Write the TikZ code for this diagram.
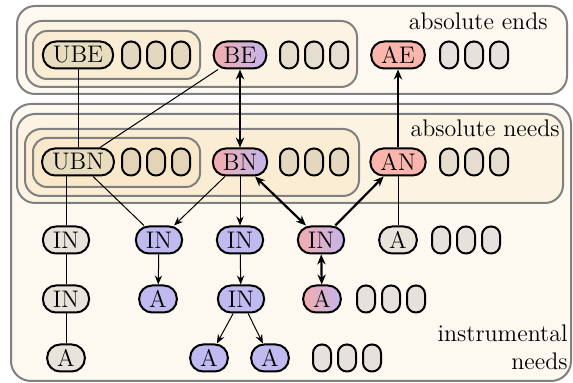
\documentclass[tikz,border=0pt]{standalone}
\usepackage{tikz}
\usetikzlibrary{arrows.meta}

\definecolor{boxa}{RGB}{253,249,241}
\definecolor{boxb}{RGB}{252,243,226}
\definecolor{boxc}{RGB}{251,237,212}
\definecolor{boxd}{RGB}{250,232,202}
\definecolor{ubcol}{RGB}{232,220,190}
\definecolor{grcol}{RGB}{232,228,220}
\definecolor{blcol}{RGB}{191,186,240}
\definecolor{abcol}{RGB}{250,182,172}
\definecolor{bpink}{RGB}{242,172,172}
\definecolor{blav}{RGB}{196,182,236}
\definecolor{edgegray}{RGB}{128,128,128}

\tikzset{
  grp/.style={draw=edgegray, line width=1pt},
  tag/.style={draw, line width=1pt, rounded corners=6.5pt, minimum height=13.5pt,
    inner xsep=5pt, inner ysep=0pt, font=\fontsize{12}{14}\selectfont},
  mixed/.style={tag, left color=bpink, right color=blav},
  oval/.style={draw, line width=1pt, rounded corners=4.4pt, minimum height=13.5pt,
    minimum width=9pt, inner sep=0pt, fill=black, fill opacity=0.09},
  caption/.style={anchor=base east, inner sep=0pt, font=\fontsize{12}{14}\selectfont},
  link/.style={line width=0.5pt, >={Stealth[length=4.5pt,width=3.6pt]}},
  bold/.style={line width=1.1pt, >={Stealth[length=5pt,width=4.2pt]}}
}

\begin{document}
\begin{tikzpicture}[x=0.5pt,y=-0.5pt]
    \useasboundingbox (0,0) rectangle (573,383);
    % ends
    \draw[grp, fill=boxa, rounded corners=9pt] (17,6) rectangle (567,94);
    \draw[grp, fill=boxb, rounded corners=8pt] (26,21) rectangle (357,87);
    \draw[grp, fill=boxc, rounded corners=7pt] (33,31) rectangle (200,79);
    % needs
    \draw[grp, fill=boxa, rounded corners=10pt] (11,104) rectangle (571,381);
    \draw[grp, fill=boxb, rounded corners=9pt] (17,114) rectangle (563,203);
    \draw[grp, fill=boxc, rounded corners=8pt] (25,129) rectangle (359,196);
    \draw[grp, fill=boxd, rounded corners=7pt] (33,138) rectangle (200,187);

    \node[caption] (ends) at (548,30) {absolute ends};
    \node[caption] (needs) at (560,137) {absolute needs};
    \node[caption] (instr) at (568,342) {instrumental};
    \node[caption] (instrb) at (568,370) {needs};

    % row 1
    \node[tag, fill=ubcol] (ube) at (78,55) {UBE};
    \node[oval] (ubeo1) at (131,55) {};
    \node[oval] (ubeo2) at (156,55) {};
    \node[oval] (ubeo3) at (181,55) {};
    \node[mixed] (be) at (240,55) {BE};
    \node[oval] (beo1) at (289,55) {};
    \node[oval] (beo2) at (314,55) {};
    \node[oval] (beo3) at (339,55) {};
    \node[tag, fill=abcol] (ae) at (398,55) {AE};
    \node[oval] (aeo1) at (449,55) {};
    \node[oval] (aeo2) at (474,55) {};
    \node[oval] (aeo3) at (499,55) {};

    % row 2
    \node[tag, fill=ubcol] (ubn) at (78,162) {UBN};
    \node[oval] (ubno1) at (131,162) {};
    \node[oval] (ubno2) at (156,162) {};
    \node[oval] (ubno3) at (181,162) {};
    \node[mixed] (bn) at (240,162) {BN};
    \node[oval] (bno1) at (289,162) {};
    \node[oval] (bno2) at (314,162) {};
    \node[oval] (bno3) at (339,162) {};
    \node[tag, fill=abcol] (an) at (398,162) {AN};
    \node[oval] (ano1) at (449,162) {};
    \node[oval] (ano2) at (474,162) {};
    \node[oval] (ano3) at (499,162) {};

    % row 3
    \node[tag, fill=grcol] (in1) at (66,240) {IN};
    \node[tag, fill=blcol] (in2) at (159,240) {IN};
    \node[tag, fill=blcol] (in3) at (240,240) {IN};
    \node[mixed] (in4) at (321,240) {IN};
    \node[tag, fill=grcol] (a1) at (398,240) {A};
    \node[oval] (a1o1) at (441,240) {};
    \node[oval] (a1o2) at (466,240) {};
    \node[oval] (a1o3) at (491,240) {};

    % row 4
    \node[tag, fill=grcol] (in5) at (66,299) {IN};
    \node[tag, fill=blcol] (a2) at (158,299) {A};
    \node[tag, fill=blcol] (in6) at (241,299) {IN};
    \node[mixed] (a3) at (322,299) {A};
    \node[oval] (a3o1) at (366,299) {};
    \node[oval] (a3o2) at (391,299) {};
    \node[oval] (a3o3) at (416,299) {};

    % row 5
    \node[tag, fill=grcol] (a4) at (66,358) {A};
    \node[tag, fill=blcol] (a5) at (209,358) {A};
    \node[tag, fill=blcol] (a6) at (270,358) {A};
    \node[oval] (a6o1) at (322,358) {};
    \node[oval] (a6o2) at (347,358) {};
    \node[oval] (a6o3) at (372,358) {};

    % links
    \draw[link] (ube) -- (ubn);
    \draw[link] (be) -- (ubn);
    \draw[bold, <->] (be) -- (bn);
    \draw[bold, ->] (an) -- (ae);
    \draw[link] (ubn.south -| in1) -- (in1);
    \draw[link] (ubn) -- (in2);
    \draw[link, ->] (bn) -- (in2);
    \draw[link, ->] (bn) -- (in3);
    \draw[bold, <->] (bn) -- (in4);
    \draw[bold, ->] (in4) -- (an);
    \draw[link] (an) -- (a1);
    \draw[link] (in1) -- (in5);
    \draw[link] (in5) -- (a4);
    \draw[link, ->] (in2) -- (a2);
    \draw[link, ->] (in3) -- (in6);
    \draw[link, ->] (in6) -- (a5);
    \draw[link, ->] (in6) -- (a6);
    \draw[bold, <->] (in4) -- (a3);
\end{tikzpicture}
\end{document}
